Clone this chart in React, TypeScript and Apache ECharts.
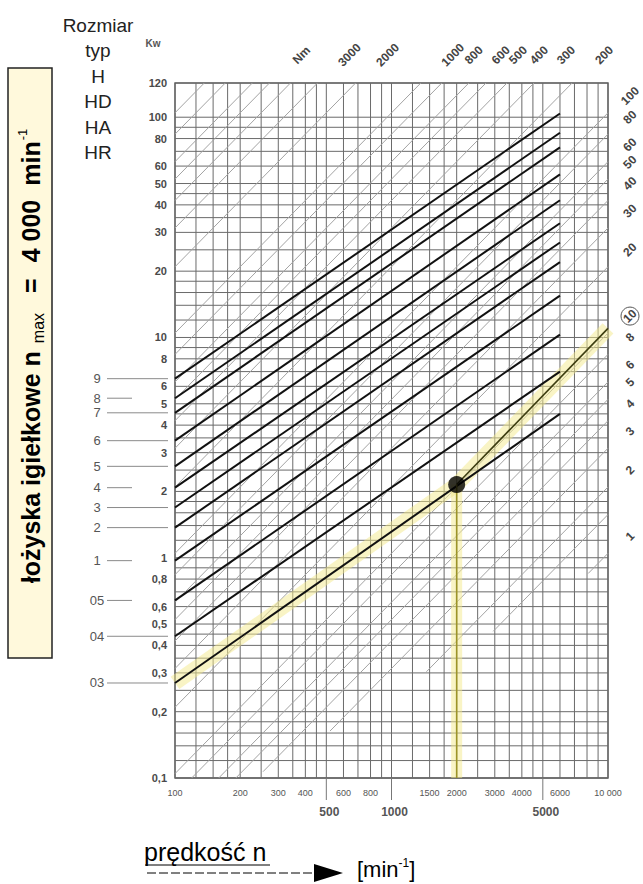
import React, { useEffect, useRef } from "react";
import * as echarts from "echarts";

const N_MIN = 100;
const N_MAX = 10000;
const P_MIN = 0.1;
const P_MAX = 143;

const gridN = [100, 125, 150, 175, 200, 250, 300, 350, 400, 450, 500, 600, 700, 800, 900, 1000, 1250, 1500, 1750, 2000, 2500, 3000, 3500, 4000, 4500, 5000, 6000, 7000, 8000, 9000, 10000];
const gridP = [0.1, 0.12, 0.14, 0.16, 0.18, 0.2, 0.25, 0.3, 0.35, 0.4, 0.45, 0.5, 0.6, 0.7, 0.8, 0.9, 1, 1.2, 1.4, 1.6, 1.8, 2, 2.5, 3, 3.5, 4, 4.5, 5, 6, 7, 8, 9, 10, 12, 14, 16, 18, 20, 25, 30, 35, 40, 45, 50, 60, 70, 80, 90, 100];

const pLabelValues = [0.1, 0.2, 0.3, 0.4, 0.5, 0.6, 0.8, 1, 2, 3, 4, 5, 6, 8, 10, 20, 30, 40, 50, 60, 80, 100];
const pTopLabel = "120";
const nLabelsSmall = [100, 200, 300, 400, 600, 800, 1500, 2000, 3000, 4000, 6000, 10000];
const nLabelsSmallText = ["100", "200", "300", "400", "600", "800", "1500", "2000", "3000", "4000", "6000", "10 000"];
const nLabelsBig = [500, 1000, 5000];

const sizeNames = ["9", "8", "7", "6", "5", "4", "3", "2", "1", "05", "04", "03"];
const sizeStartN = 100;
const sizeEndN = 6000;
const sizeStartP = [6.5, 5.3, 4.55, 3.4, 2.6, 2.08, 1.69, 1.37, 0.97, 0.64, 0.44, 0.27];
const sizeEndP = [104, 85, 73, 55, 42, 33, 27, 22, 15.5, 10.3, 7.0, 4.5];
const leaderShort = [false, true, false, false, false, true, false, false, true, true, false, false];

// torque lines [Nm] and, for the short ones in the lower right, the speed where they begin
const torqueNm = [10000, 8000, 6000, 5000, 4000, 3000, 2000, 1000, 800, 600, 500, 400, 300, 200, 100, 80, 60, 50, 40, 30, 20, 10, 8, 6, 5, 4, 3, 2, 1.5, 1];
const torqueStartN = [0, 0, 0, 0, 0, 0, 0, 0, 0, 0, 0, 0, 0, 0, 0, 0, 0, 0, 0, 0, 0, 0, 0, 0, 0, 255, 520, 1450, 2950, 8100];
const torqueTopLabels = [3000, 2000, 1000, 800, 600, 500, 400, 300, 200];
const torqueUnitAt = 5000;
const torqueRightLabels = [100, 80, 60, 50, 40, 30, 20, 10, 8, 6, 5, 4, 3, 2, 1];

const exampleSizeStartP = 0.27;
const exampleN = 2000;
const exampleP = 2.15;
const exampleT = 10;
const exampleEndP = 11;

const FONT = "Liberation Sans, Arial, sans-serif";
const GRID_LEFT = 175;
const GRID_RIGHT_PX = 608;
const GRID_TOP = 83;
const GRID_BOTTOM_PX = 778;

export default function App() {
  const ref = useRef<HTMLDivElement>(null);
  useEffect(() => {
    if (!ref.current) return;
    const chart = echarts.init(ref.current, null, { renderer: "svg" });

    const powerOf = (T: number, n: number) => (T * n) / 9550;

    const option: any = {
      animation: false,
      backgroundColor: "#ffffff",
      grid: {
        left: GRID_LEFT,
        right: 643 - GRID_RIGHT_PX,
        top: GRID_TOP,
        bottom: 884 - GRID_BOTTOM_PX,
        show: true,
        borderColor: "#505050",
        borderWidth: 1.3,
        backgroundColor: "transparent",
      },
      xAxis: {
        type: "log",
        logBase: 10,
        min: N_MIN,
        max: N_MAX,
        axisLine: { show: false },
        axisTick: { show: false },
        axisLabel: { show: false },
        splitLine: { show: false },
      },
      yAxis: {
        type: "log",
        logBase: 10,
        min: P_MIN,
        max: P_MAX,
        axisLine: { show: false },
        axisTick: { show: false },
        axisLabel: { show: false },
        splitLine: { show: false },
      },
      graphic: [
        {
          type: "rect",
          shape: { x: 8, y: 68, width: 44, height: 590 },
          style: { fill: "#fff9dc", stroke: "#222", lineWidth: 1.5 },
          z: 10,
        },
        {
          type: "text",
          x: 31,
          y: 356,
          rotation: Math.PI / 2,
          z: 11,
          style: {
            text: "{a|łożyska igiełkowe n}{s|max}{b|=}{c|4 000}{d|min}{p|-1}",
            align: "center",
            verticalAlign: "middle",
            rich: {
              a: { fontSize: 25, fontWeight: "bold", fontFamily: FONT, lineHeight: 30, verticalAlign: "middle", fill: "#000" },
              s: { fontSize: 16, fontFamily: FONT, lineHeight: 15, verticalAlign: "bottom", fill: "#000", padding: [0, 0, 0, 8] },
              b: { fontSize: 25, fontWeight: "bold", fontFamily: FONT, lineHeight: 30, verticalAlign: "middle", fill: "#000", padding: [0, 0, 0, 20] },
              c: { fontSize: 25, fontWeight: "bold", fontFamily: FONT, lineHeight: 30, verticalAlign: "middle", fill: "#000", padding: [0, 0, 0, 16] },
              d: { fontSize: 25, fontWeight: "bold", fontFamily: FONT, lineHeight: 30, verticalAlign: "middle", fill: "#000", padding: [0, 0, 0, 14] },
              p: { fontSize: 13, fontFamily: FONT, lineHeight: 13, verticalAlign: "top", fill: "#000", padding: [0, 0, 0, 1] },
            },
          },
        },
        ...["Rozmiar", "typ", "H", "HD", "HA", "HR"].map((t, i) => ({
          type: "text",
          x: 98,
          y: 25 + i * 25.5,
          style: { text: t, fontSize: 19, fontFamily: FONT, fill: "#222", align: "center", verticalAlign: "middle" },
        })),
        {
          type: "text",
          x: 153,
          y: 43,
          style: { text: "Kw", fontSize: 10, fontWeight: "bold", fontFamily: FONT, fill: "#555", align: "center", verticalAlign: "middle" },
        },
        {
          type: "text",
          x: 144,
          y: 852,
          style: { text: "prędkość n", fontSize: 25, fontFamily: FONT, fill: "#000", align: "left", verticalAlign: "middle" },
        },
        { type: "line", shape: { x1: 145, y1: 865, x2: 270, y2: 865 }, style: { stroke: "#000", lineWidth: 1 } },
        { type: "line", shape: { x1: 147, y1: 873, x2: 318, y2: 873 }, style: { stroke: "#000", lineWidth: 1, lineDash: [9, 3] } },
        { type: "polygon", shape: { points: [[314, 864], [343, 873], [314, 882]] }, style: { fill: "#000" } },
        {
          type: "text",
          x: 357,
          y: 869,
          style: {
            text: "{a|[min}{p|-1}{a|]}",
            align: "left",
            verticalAlign: "middle",
            rich: {
              a: { fontSize: 22, fontFamily: FONT, lineHeight: 24, verticalAlign: "middle", fill: "#000" },
              p: { fontSize: 12, fontFamily: FONT, lineHeight: 12, verticalAlign: "top", fill: "#000" },
            },
          },
        },
      ],
      series: [
        {
          type: "custom",
          name: "gridN",
          coordinateSystem: "cartesian2d",
          clip: false,
          z: 1,
          data: gridN.map((n) => [n, 1]),
          encode: { x: 0, y: 1 },
          renderItem: (params: any, api: any) => {
            const n = api.value(0);
            const a = api.coord([n, P_MIN]);
            const b = api.coord([n, P_MAX]);
            return { type: "line", shape: { x1: a[0], y1: a[1], x2: b[0], y2: b[1] }, style: { stroke: "#6a6a6a", lineWidth: 1 } };
          },
        },
        {
          type: "custom",
          name: "gridP",
          coordinateSystem: "cartesian2d",
          clip: false,
          z: 1,
          data: gridP.map((p) => [N_MIN, p]),
          encode: { x: 0, y: 1 },
          renderItem: (params: any, api: any) => {
            const p = api.value(1);
            const a = api.coord([N_MIN, p]);
            const b = api.coord([N_MAX, p]);
            return { type: "line", shape: { x1: a[0], y1: a[1], x2: b[0], y2: b[1] }, style: { stroke: "#6a6a6a", lineWidth: 1 } };
          },
        },
        {
          type: "custom",
          name: "torque",
          coordinateSystem: "cartesian2d",
          clip: false,
          z: 2,
          data: torqueNm.map((t, i) => [t, 1, torqueStartN[i] || N_MIN]),
          encode: { x: 0, y: 1 },
          renderItem: (params: any, api: any) => {
            const T = api.value(0);
            const startN = api.value(2);
            const n0 = Math.max(N_MIN, startN, (P_MIN * 9550) / T);
            const n1 = Math.min(N_MAX, (P_MAX * 9550) / T);
            if (n0 >= n1) return null;
            const a = api.coord([n0, powerOf(T, n0)]);
            const b = api.coord([n1, powerOf(T, n1)]);
            const children: any[] = [
              { type: "line", shape: { x1: a[0], y1: a[1], x2: b[0], y2: b[1] }, style: { stroke: "#a3a3a3", lineWidth: 1 } },
            ];
            const exitsTop = n1 < N_MAX;
            let label: string | null = null;
            if (exitsTop && torqueTopLabels.indexOf(T) >= 0) label = String(T);
            if (exitsTop && T === torqueUnitAt) label = "Nm";
            if (!exitsTop && torqueRightLabels.indexOf(T) >= 0) label = String(T);
            if (label) {
              const lx = exitsTop ? b[0] + 32 : b[0] + 22;
              const ly = exitsTop ? b[1] - 28 : b[1] - 17;
              children.push({
                type: "text",
                x: lx,
                y: ly,
                rotation: Math.PI / 4,
                style: { text: label, fontSize: 12, fontWeight: "bold", fontFamily: FONT, fill: "#444", align: "center", verticalAlign: "middle" },
              });
              if (T === exampleT) {
                children.push({ type: "circle", shape: { cx: lx, cy: ly, r: 9 }, style: { fill: "none", stroke: "#555", lineWidth: 1 } });
              }
            }
            return { type: "group", children };
          },
        },
        {
          type: "line",
          name: "highlight",
          z: 3,
          symbol: "none",
          data: [[N_MIN, exampleSizeStartP], [exampleN, exampleP], [N_MAX, exampleEndP]],
          lineStyle: { color: "rgba(244, 234, 140, 0.5)", width: 15 },
        },
        {
          type: "line",
          name: "highlightV",
          z: 3,
          symbol: "none",
          data: [[exampleN, P_MIN], [exampleN, exampleP]],
          lineStyle: { color: "rgba(244, 234, 140, 0.5)", width: 11 },
        },
        {
          type: "custom",
          name: "sizes",
          coordinateSystem: "cartesian2d",
          clip: false,
          z: 4,
          data: sizeNames.map((_, i) => [sizeStartN, sizeStartP[i], sizeEndN, sizeEndP[i]]),
          encode: { x: [0, 2], y: [1, 3] },
          renderItem: (params: any, api: any) => {
            const i = params.dataIndex;
            const a = api.coord([api.value(0), api.value(1)]);
            const b = api.coord([api.value(2), api.value(3)]);
            return {
              type: "group",
              children: [
                { type: "line", shape: { x1: a[0], y1: a[1], x2: b[0], y2: b[1] }, style: { stroke: "#111", lineWidth: 2 } },
                { type: "line", shape: { x1: 107, y1: a[1], x2: leaderShort[i] ? 132 : 168, y2: a[1] }, style: { stroke: "#8a8a8a", lineWidth: 1 } },
                {
                  type: "text",
                  x: 97,
                  y: a[1],
                  style: { text: sizeNames[i], fontSize: 13, fontFamily: FONT, fill: "#555", align: "center", verticalAlign: "middle" },
                },
              ],
            };
          },
        },
        {
          type: "line",
          name: "exampleT",
          z: 5,
          symbol: "none",
          data: [[exampleN, exampleP], [N_MAX, exampleEndP]],
          lineStyle: { color: "#3d3d10", width: 1.6 },
        },
        {
          type: "line",
          name: "exampleV",
          z: 5,
          symbol: "none",
          data: [[exampleN, P_MIN], [exampleN, exampleP]],
          lineStyle: { color: "#9c9428", width: 1.6 },
        },
        {
          type: "scatter",
          name: "dot",
          z: 6,
          symbol: "circle",
          symbolSize: 17,
          itemStyle: { color: "#000" },
          data: [[exampleN, exampleP]],
        },
        {
          type: "custom",
          name: "pLabels",
          coordinateSystem: "cartesian2d",
          clip: false,
          z: 5,
          data: pLabelValues.map((p) => [N_MIN, p]).concat([[N_MIN, P_MAX]]),
          encode: { x: 0, y: 1 },
          renderItem: (params: any, api: any) => {
            const p = api.value(1);
            const a = api.coord([N_MIN, p]);
            const txt = p === P_MAX ? pTopLabel : String(p).replace(".", ",");
            return {
              type: "text",
              x: a[0] - 8,
              y: a[1],
              style: { text: txt, fontSize: 11, fontWeight: "bold", fontFamily: FONT, fill: "#4a4a4a", align: "right", verticalAlign: "middle" },
            };
          },
        },
        {
          type: "custom",
          name: "nLabels",
          coordinateSystem: "cartesian2d",
          clip: false,
          z: 5,
          data: nLabelsSmall.map((n) => [n, P_MIN]),
          encode: { x: 0, y: 1 },
          renderItem: (params: any, api: any) => {
            const a = api.coord([api.value(0), P_MIN]);
            return {
              type: "text",
              x: a[0],
              y: a[1] + 15,
              style: { text: nLabelsSmallText[params.dataIndex], fontSize: 9, fontFamily: FONT, fill: "#555", align: "center", verticalAlign: "middle" },
            };
          },
        },
        {
          type: "custom",
          name: "nLabelsBig",
          coordinateSystem: "cartesian2d",
          clip: false,
          z: 5,
          data: nLabelsBig.map((n) => [n, P_MIN]),
          encode: { x: 0, y: 1 },
          renderItem: (params: any, api: any) => {
            const a = api.coord([api.value(0), P_MIN]);
            return {
              type: "group",
              children: [
                { type: "line", shape: { x1: a[0], y1: a[1], x2: a[0], y2: a[1] + 22 }, style: { stroke: "#777", lineWidth: 1 } },
                {
                  type: "text",
                  x: a[0] + 3,
                  y: a[1] + 34,
                  style: { text: String(api.value(0)), fontSize: 12, fontWeight: "bold", fontFamily: FONT, fill: "#555", align: "center", verticalAlign: "middle" },
                },
              ],
            };
          },
        },
      ],
    };

    chart.setOption(option);
    return () => chart.dispose();
  }, []);

  return <div ref={ref} style={{ width: 643, height: 884, position: "absolute", left: 0, top: 0 }} />;
}
